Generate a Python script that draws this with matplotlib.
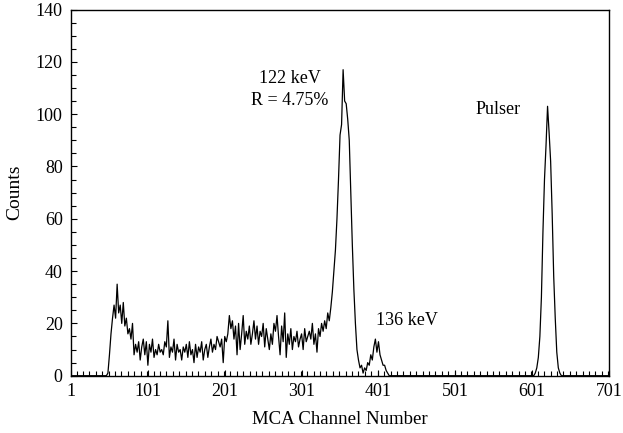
import numpy as np
import matplotlib
matplotlib.use("Agg")
import matplotlib.pyplot as plt
from matplotlib.ticker import MultipleLocator

plt.rcParams['font.family'] = ['Liberation Serif', 'DejaVu Serif']

# main part of the spectrum, every second channel from 45 to 417
main_channels = np.arange(45, 419, 2)
main_counts = [
    0, 0, 1, 8, 16, 22, 27, 22, 35, 24, 27, 20, 28, 19, 22, 16, 18, 14, 20, 8,
    12, 9, 13, 6, 11, 14, 8, 13, 4, 12, 9, 14, 7, 10, 8, 12, 9, 10, 8, 13,
    11, 21, 7, 11, 9, 14, 6, 12, 9, 10, 6, 11, 9, 12, 7, 13, 8, 10, 5, 12,
    7, 11, 9, 13, 6, 10, 12, 7, 11, 14, 9, 12, 10, 15, 13, 11, 14, 5, 15, 13,
    16, 23, 18, 21, 14, 19, 8, 20, 10, 16, 23, 12, 17, 14, 19, 12, 16, 21, 14, 19,
    12, 17, 15, 20, 11, 18, 14, 10, 16, 12, 20, 17, 23, 15, 8, 19, 13, 24, 7, 16,
    12, 18, 10, 15, 13, 17, 11, 14, 16, 10, 18, 13, 15, 17, 14, 20, 12, 16, 9, 18,
    15, 20, 17, 21, 18, 24, 21, 26, 32, 40, 48, 60, 75, 92, 96, 117, 105, 104, 98, 90,
    70, 50, 33, 20, 10, 6, 3, 4, 1, 3, 2, 5, 4, 8, 6, 11, 14, 9, 13, 8,
    6, 4, 4, 2, 1, 0, 0,
]

# pulser peak
pulser_channels = np.arange(603, 641, 2)
pulser_counts = [0, 1, 3, 7, 15, 30, 55, 75, 88, 103, 93, 82, 62, 38, 22, 9, 3, 1, 0]

x = np.concatenate([[1], main_channels, pulser_channels, [701]])
y = np.concatenate([[0], main_counts, pulser_counts, [0]])

fig = plt.figure(figsize=(6.23, 4.33), dpi=100)
ax = fig.add_axes([0.114, 0.1323, 0.8636, 0.8457])

ax.plot(x, y, color='black', linewidth=0.9)

ax.set_xlim(1, 701)
ax.set_ylim(0, 140)
ax.set_xticks(np.arange(1, 702, 100))
ax.xaxis.set_minor_locator(MultipleLocator(100 / 12))
ax.yaxis.set_major_locator(MultipleLocator(20))
ax.yaxis.set_minor_locator(MultipleLocator(5))
ax.tick_params(which='both', direction='in', top=False, right=False, width=0.8, labelsize=13)
ax.tick_params(which='major', length=4)
ax.tick_params(which='minor', length=3.5)
ax.tick_params(axis='x', which='major', pad=5)
ax.tick_params(axis='y', which='major', pad=6)
for s in ax.spines.values():
    s.set_linewidth(1.0)

ax.set_xlabel('MCA Channel Number', fontsize=13.5, labelpad=8)
ax.set_ylabel('Counts', fontsize=14, labelpad=9)

ax.text(286, 113.7, '122 keV', ha='center', va='center', fontsize=13)
ax.text(286, 105.1, 'R = 4.75%', ha='center', va='center', fontsize=13)
ax.text(438, 21.3, '136 keV', ha='center', va='center', fontsize=13)
ax.text(557, 101.6, 'Pulser', ha='center', va='center', fontsize=13)

fig.savefig('out.png', dpi=100)
